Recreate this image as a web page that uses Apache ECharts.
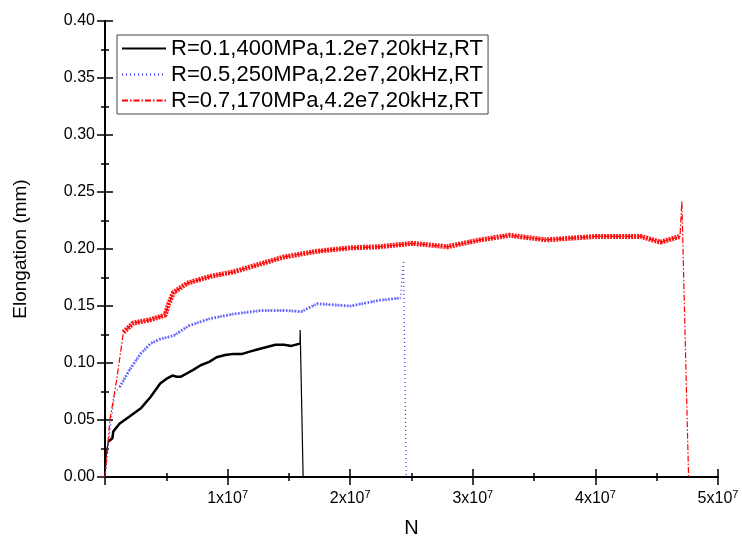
<!DOCTYPE html>
<html>
<head>
<meta charset="utf-8">
<script src="https://cdn.jsdelivr.net/npm/echarts@6/dist/echarts.min.js"></script>
<style>
  html, body { margin: 0; padding: 0; background: #fff; }
  #chart { width: 742px; height: 543px; }
</style>
</head>
<body>
<div id="chart"></div>
<script>
// N in units of 1e7 cycles, elongation in mm
var seriesNames = [
  'R=0.1,400MPa,1.2e7,20kHz,RT',
  'R=0.5,250MPa,2.2e7,20kHz,RT',
  'R=0.7,170MPa,4.2e7,20kHz,RT'
]

var blackN = [0, 0.01, 0.027, 0.06, 0.068, 0.08, 0.12, 0.20, 0.29, 0.37, 0.45, 0.50, 0.55, 0.585, 0.62, 0.67, 0.72, 0.78, 0.85, 0.91, 0.98, 1.05, 1.12, 1.18, 1.25, 1.32, 1.39, 1.46, 1.52, 1.59, 1.592, 1.616]
var blackE = [0, 0.02, 0.031, 0.034, 0.040, 0.041, 0.047, 0.053, 0.060, 0.070, 0.082, 0.086, 0.089, 0.088, 0.088, 0.091, 0.094, 0.098, 0.101, 0.105, 0.107, 0.108, 0.108, 0.110, 0.112, 0.114, 0.116, 0.116, 0.115, 0.117, 0.129, 0]

var blueN = [0, 0.04, 0.08, 0.12, 0.20, 0.29, 0.37, 0.45, 0.56, 0.69, 0.86, 1.05, 1.27, 1.48, 1.60, 1.73, 2.00, 2.24, 2.41, 2.435, 2.457]
var blueE = [0, 0.040, 0.074, 0.079, 0.094, 0.108, 0.117, 0.121, 0.124, 0.133, 0.139, 0.143, 0.146, 0.146, 0.145, 0.152, 0.150, 0.155, 0.157, 0.190, 0]

var redN = [0, 0.04, 0.095, 0.15, 0.23, 0.37, 0.49, 0.52, 0.56, 0.67, 0.86, 1.05, 1.24, 1.46, 1.73, 2.00, 2.24, 2.51, 2.79, 3.06, 3.30, 3.60, 4.00, 4.37, 4.53, 4.69, 4.705, 4.76]
var redE = [0, 0.050, 0.085, 0.127, 0.135, 0.138, 0.142, 0.152, 0.162, 0.170, 0.176, 0.180, 0.186, 0.193, 0.198, 0.201, 0.202, 0.205, 0.202, 0.208, 0.212, 0.208, 0.211, 0.211, 0.206, 0.211, 0.242, 0]

// index ranges where the noisy trace looks like a thick band
var blackBand = [2, 29]
var blueBand = [3, 18]
var redBand = [3, 25]

function pairs(n, e, from, to) {
  var out = []
  for (var i = from; i <= to; i++) out.push([n[i], e[i]])
  return out
}

var chart = echarts.init(document.getElementById('chart'))

var baseFont = 'Liberation Sans, Arial, sans-serif'
var tickStyle = { show: true, inside: true, length: 8, lineStyle: { color: '#000', width: 1.5 } }
var minorStyle = { show: true, splitNumber: 2, length: 4, lineStyle: { color: '#000', width: 1.5 } }
var lineStyleAxis = { show: true, lineStyle: { color: '#000', width: 2 } }

var option = {
  animation: false,
  backgroundColor: '#fff',
  grid: { left: 105, right: 24, top: 21, bottom: 66, containLabel: false },
  legend: {
    data: seriesNames,
    orient: 'vertical',
    left: 117,
    top: 35,
    itemWidth: 44,
    itemHeight: 12,
    itemGap: 3,
    padding: [2, 5, 2, 4],
    borderColor: '#444',
    borderWidth: 1,
    backgroundColor: '#fff',
    itemStyle: { color: 'transparent', borderWidth: 0, opacity: 0 },
    textStyle: { fontFamily: baseFont, fontSize: 22, color: '#000', lineHeight: 23 }
  },
  xAxis: [
    {
      type: 'value', min: 0, max: 5, interval: 1,
      name: 'N', nameLocation: 'middle', nameGap: 41,
      nameTextStyle: { fontFamily: baseFont, fontSize: 20, color: '#000' },
      axisLine: lineStyleAxis, axisTick: tickStyle, minorTick: minorStyle,
      splitLine: { show: false },
      axisLabel: {
        margin: 12,
        formatter: function (v) { return v === 0 ? '' : '{b|' + v + 'x10}{s|7}' },
        rich: {
          b: { fontFamily: baseFont, fontSize: 16, color: '#000' },
          s: { fontFamily: baseFont, fontSize: 11, color: '#000', verticalAlign: 'top', padding: [0, 0, 8, 0] }
        }
      }
    },
    {
      type: 'value', min: 0, max: 5, interval: 1, position: 'top',
      axisLine: lineStyleAxis, axisTick: tickStyle, minorTick: minorStyle,
      splitLine: { show: false }, axisLabel: { show: false }
    }
  ],
  yAxis: [
    {
      type: 'value', min: 0, max: 0.4, interval: 0.05,
      name: 'Elongation (mm)', nameLocation: 'middle', nameGap: 75,
      nameTextStyle: { fontFamily: baseFont, fontSize: 19, color: '#000' },
      axisLine: lineStyleAxis, axisTick: tickStyle, minorTick: minorStyle,
      splitLine: { show: false },
      axisLabel: {
        margin: 10, fontFamily: baseFont, fontSize: 16, color: '#000',
        formatter: function (v) { return v.toFixed(2) }
      }
    },
    {
      type: 'value', min: 0, max: 0.4, interval: 0.05, position: 'right',
      axisLine: lineStyleAxis, axisTick: tickStyle, minorTick: minorStyle,
      splitLine: { show: false }, axisLabel: { show: false }
    }
  ],
  series: [
    {
      name: 'black band', type: 'line', symbol: 'none', silent: true,
      data: pairs(blackN, blackE, blackBand[0], blackBand[1]),
      lineStyle: { color: '#000', width: 2.5 }
    },
    {
      name: 'blue band', type: 'line', symbol: 'none', silent: true,
      data: pairs(blueN, blueE, blueBand[0], blueBand[1]),
      lineStyle: { color: 'rgba(70,70,255,0.75)', width: 3, type: [1.5, 1.5] }
    },
    {
      name: 'red band', type: 'line', symbol: 'none', silent: true,
      data: pairs(redN, redE, redBand[0], redBand[1]),
      lineStyle: { color: 'rgba(255,0,0,0.9)', width: 5, type: [2, 1] }
    },
    {
      name: seriesNames[0], type: 'line', symbol: 'none',
      data: pairs(blackN, blackE, 0, blackN.length - 1),
      lineStyle: { color: '#000', width: 1.2 },
      itemStyle: { color: '#000' }
    },
    {
      name: seriesNames[1], type: 'line', symbol: 'none',
      data: pairs(blueN, blueE, 0, blueN.length - 1),
      lineStyle: { color: '#3333ff', width: 1.2, type: [1, 3] },
      itemStyle: { color: '#3333ff' }
    },
    {
      name: seriesNames[2], type: 'line', symbol: 'none',
      data: pairs(redN, redE, 0, redN.length - 1),
      lineStyle: { color: '#ff0000', width: 1.2, type: [6, 2, 1.5, 2] },
      itemStyle: { color: '#ff0000' }
    }
  ]
}

chart.setOption(option)
</script>
</body>
</html>
